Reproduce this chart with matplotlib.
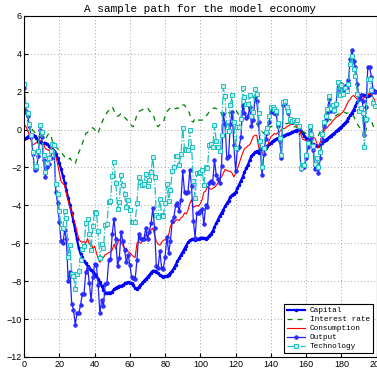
import matplotlib
matplotlib.use("Agg")
import matplotlib.pyplot as plt
import numpy as np

# model economy sample path, 200 periods (log deviations)
capital = [
  -0.5, -0.45, -0.38, -0.32, -0.3, -0.28, -0.35, -0.45, -0.58, -0.68,
  -0.7, -0.72, -0.7, -0.75, -0.85, -0.92, -1.0, -1.12, -1.3, -1.5,
  -1.75, -2.1, -2.45, -2.8, -3.2, -3.6, -4.0, -4.4, -4.85, -5.3,
  -5.8, -6.25, -6.55, -6.75, -6.95, -7.05, -7.2, -7.3, -7.4, -7.5,
  -7.6, -7.72, -7.88, -8.05, -8.25, -8.45, -8.6, -8.62, -8.6, -8.6,
  -8.55, -8.42, -8.35, -8.3, -8.25, -8.25, -8.2, -8.12, -8.08, -8.05,
  -8.07, -8.12, -8.22, -8.38, -8.4, -8.32, -8.22, -8.1, -7.98, -7.88,
  -7.78, -7.68, -7.55, -7.45, -7.45, -7.5, -7.58, -7.68, -7.75, -7.78,
  -7.75, -7.72, -7.65, -7.55, -7.45, -7.3, -7.12, -6.95, -6.78, -6.62,
  -6.45, -6.28, -6.12, -5.95, -5.85, -5.8, -5.8, -5.82, -5.8, -5.76,
  -5.72, -5.7, -5.72, -5.75, -5.7, -5.6, -5.5, -5.35, -5.15, -4.95,
  -4.75, -4.55, -4.4, -4.22, -4.05, -3.9, -3.75, -3.55, -3.45, -3.38,
  -3.3, -3.1, -2.9, -2.7, -2.5, -2.25, -2.05, -1.85, -1.6, -1.4,
  -1.3, -1.2, -1.15, -1.25, -1.15, -1.05, -1.0, -0.95, -0.85, -0.78,
  -0.7, -0.62, -0.55, -0.5, -0.45, -0.42, -0.38, -0.35, -0.3, -0.25,
  -0.22, -0.18, -0.15, -0.1, -0.05, 0.0, 0.02, -0.05, -0.2, -0.35,
  -0.45, -0.55, -0.62, -0.7, -0.75, -0.8, -0.85, -0.88, -0.8, -0.72,
  -0.62, -0.55, -0.48, -0.4, -0.32, -0.25, -0.18, -0.1, 0.0, 0.08,
  0.15, 0.25, 0.35, 0.45, 0.6, 0.75, 0.9, 1.05, 1.25, 1.45,
  1.65, 1.8, 1.85, 1.8, 1.75, 1.78, 1.85, 1.92, 1.98, 2.02,
]

interest_rate = [
  1.0, 0.8, 0.5, 0.25, 0.1, -0.05, -0.15, -0.3, -0.35, -0.4,
  -0.45, -0.5, -0.55, -0.35, -0.2, -0.25, -0.6, -0.75, -0.9, -1.0,
  -1.1, -1.25, -1.3, -1.45, -1.55, -1.6, -1.5, -1.65, -1.75, -1.8,
  -1.5, -1.2, -1.0, -0.75, -0.45, -0.2, -0.15, -0.05, 0.05, 0.1,
  0.0, -0.15, -0.2, 0.1, 0.35, 0.55, 0.75, 0.9, 1.0, 1.1,
  1.2, 1.0, 0.8, 0.7, 0.75, 0.85, 0.8, 0.65, 0.55, 0.45,
  0.35, 0.2, 0.15, 0.45, 0.8, 0.95, 1.0, 1.05, 1.1, 1.1,
  1.15, 1.0, 0.9, 0.85, 0.55, 0.25, 0.15, 0.25, 0.35, 0.4,
  0.7, 0.95, 1.05, 1.15, 1.2, 1.15, 1.1, 1.15, 1.1, 1.2,
  1.3, 1.3, 1.15, 1.05, 0.8, 0.45, 0.4, 0.6, 0.6, 0.5,
  0.5, 0.5, 0.55, 0.7, 0.8, 0.95, 1.05, 1.1, 1.15, 1.1,
  1.1, 1.0, 0.85, 0.75, 0.8, 0.85, 0.9, 0.85, 0.95, 1.05,
  1.05, 0.9, 0.75, 0.85, 1.0, 1.1, 1.25, 1.3, 1.0, 0.8,
  0.7, 0.5, 0.3, 0.15, 0.05, -0.1, -0.2, -0.2, -0.05, 0.1,
  0.15, 0.2, 0.3, 0.35, 0.3, 0.3, 0.35, 0.4, 0.35, 0.3,
  0.35, 0.3, 0.2, 0.15, 0.15, 0.1, 0.0, -0.1, -0.1, -0.15,
  -0.2, -0.15, -0.1, -0.2, -0.3, -0.35, -0.4, -0.3, -0.1, 0.1,
  0.3, 0.5, 0.6, 0.55, 0.5, 0.6, 0.7, 0.75, 0.8, 0.85,
  0.9, 0.95, 0.9, 0.85, 0.9, 0.85, 0.8, 0.7, 0.5, 0.3,
  0.15, 0.05, -0.1, -0.4, 0.0, 0.5, 0.6, 0.45, 0.2, 0.0,
]

consumption = [
  0.3, 0.15, -0.05, -0.3, -0.6, -0.8, -0.75, -0.68, -0.72, -0.6,
  -0.55, -0.75, -1.0, -1.05, -1.1, -0.95, -0.95, -1.15, -1.45, -1.8,
  -2.3, -2.75, -2.85, -2.95, -3.4, -3.75, -4.1, -4.3, -4.7, -5.0,
  -5.4, -5.75, -5.9, -5.95, -5.9, -6.0, -5.75, -6.05, -5.95, -6.3,
  -6.15, -6.5, -6.8, -7.0, -6.85, -6.75, -6.6, -6.55, -6.5, -6.45,
  -6.35, -6.05, -6.3, -6.0, -5.8, -5.95, -6.1, -6.3, -6.25, -6.45,
  -6.5, -6.6, -6.7, -6.75, -6.0, -5.9, -6.0, -5.9, -5.85, -5.55,
  -5.6, -5.4, -5.3, -5.2, -5.55, -5.9, -6.05, -6.1, -5.95, -5.85,
  -5.8, -5.7, -5.55, -5.1, -4.95, -4.95, -4.8, -4.75, -4.8, -4.65,
  -4.6, -4.4, -4.45, -4.25, -3.9, -3.7, -4.1, -4.05, -4.0, -4.05,
  -3.9, -3.7, -3.3, -3.25, -3.0, -3.1, -3.15, -3.1, -3.05, -2.95,
  -2.8, -2.6, -2.5, -2.3, -2.1, -2.15, -2.2, -2.2, -2.3, -2.5,
  -2.3, -2.05, -1.8, -1.5, -1.25, -1.0, -0.95, -0.85, -0.8, -0.6,
  -0.37, -0.3, -0.3, -0.9, -1.1, -1.25, -1.2, -1.1, -0.9, -0.6,
  -0.37, -0.3, -0.2, -0.25, -0.15, -0.1, 0.0, 0.05, 0.07, 0.15,
  0.2, 0.25, 0.3, 0.3, 0.25, 0.15, 0.05, -0.25, -0.5, -0.55,
  -0.6, -0.7, -0.68, -0.5, -0.4, -0.45, -0.7, -0.95, -0.65, -0.3,
  -0.1, 0.05, 0.1, 0.25, 0.3, 0.45, 0.55, 0.65, 0.7, 0.75,
  0.85, 0.95, 1.1, 1.3, 1.5, 1.6, 1.75, 1.8, 1.7, 1.6,
  1.5, 1.55, 1.6, 1.7, 1.75, 1.85, 1.9, 1.85, 1.7, 1.55,
]

output = [
  2.2, 1.0, 0.7, 0.2, -0.4, -1.3, -2.15, -2.1, -1.4, 0.0,
  -0.4, -1.6, -2.5, -2.0, -1.8, -1.5, -1.1, -1.2, -3.3, -3.9,
  -4.9, -5.9, -6.0, -5.3, -5.8, -8.0, -7.5, -9.2, -9.5, -10.3,
  -9.7, -9.7, -9.25, -8.7, -8.65, -7.5, -7.3, -8.1, -9.0, -7.8,
  -7.1, -7.15, -8.2, -9.7, -9.0, -9.3, -8.15, -8.1, -6.9, -6.85,
  -5.5, -4.7, -5.8, -7.2, -6.8, -5.4, -5.9, -6.35, -7.0, -6.6,
  -7.15, -7.8, -7.85, -7.9, -6.9, -5.5, -5.7, -5.8, -5.75, -5.2,
  -5.8, -5.4, -4.95, -4.15, -5.2, -7.2, -7.3, -6.4, -7.3, -7.35,
  -6.7, -5.65, -6.5, -5.9, -4.85, -4.6, -3.97, -3.9, -4.3, -3.7,
  -2.2, -3.3, -3.35, -3.3, -2.13, -3.0, -4.8, -5.7, -4.4, -4.4,
  -4.3, -4.2, -5.0, -4.0, -4.1, -2.8, -2.7, -2.8, -1.6, -2.4,
  -2.6, -2.8, -1.9, 0.8, 0.3, -1.5, -1.4, 0.3, 0.95, -0.8,
  -2.2, -1.0, -0.9, -0.4, 1.3, 0.9, 0.6, 0.7, 1.2, 0.2,
  0.5, 1.7, 1.5, 0.4, -1.0, -2.4, -1.3, -0.5, -0.2, 0.4,
  0.95, 1.0, 0.9, 0.8, 0.2, -0.6, -1.5, 1.3, 1.4, 1.1,
  0.9, 0.5, 0.4, 0.45, 0.4, 0.5, 0.2, -2.1, -1.9, -2.0,
  -1.5, -0.9, 0.0, -0.5, -1.1, -2.1, -1.8, -2.3, -1.5, -0.5,
  0.2, 0.5, 0.9, 1.6, 1.0, 1.2, 1.0, 1.3, 2.5, 1.8,
  2.4, 2.0, 2.3, 2.2, 2.6, 3.7, 4.2, 3.6, 3.3, 2.4,
  1.6, 1.8, 1.5, -0.3, 1.2, 3.3, 3.3, 2.8, 2.1, 2.0,
]

technology = [
  2.4, 1.3, 0.85, 0.3, -0.3, -1.2, -2.0, -1.9, -1.15, 0.25,
  -0.15, -1.35, -2.25, -1.75, -1.5, -1.15, -0.75, -0.8, -2.85, -3.4,
  -4.3, -5.2, -5.2, -4.3, -4.65, -6.7, -6.1, -7.6, -7.75, -8.4,
  -7.6, -7.45, -6.9, -6.3, -6.15, -4.95, -4.7, -5.5, -6.35, -5.1,
  -4.35, -4.4, -5.35, -6.8, -6.05, -6.25, -5.05, -5.0, -3.8, -3.75,
  -2.45, -1.7, -2.8, -4.2, -3.8, -2.4, -2.95, -3.4, -4.1, -3.7,
  -4.25, -4.9, -4.9, -4.9, -3.9, -2.5, -2.75, -2.9, -2.85, -2.35,
  -3.0, -2.65, -2.25, -1.45, -2.5, -4.5, -4.6, -3.65, -4.5, -4.55,
  -3.9, -2.85, -3.75, -3.2, -2.2, -2.0, -1.4, -1.4, -1.85, -1.3,
  0.1, -1.0, -1.1, -1.1, 0.0, -0.9, -2.7, -3.6, -2.3, -2.3,
  -2.25, -2.15, -2.95, -1.95, -2.05, -0.8, -0.75, -0.9, 0.25, -0.6,
  -0.9, -1.15, -0.3, 2.3, 1.75, -0.1, -0.05, 1.3, 1.8, 0.4,
  -0.95, 0.15, 0.15, 0.55, 2.2, 1.7, 1.35, 1.35, 1.8, 0.7,
  0.95, 2.15, 1.9, 0.85, -0.6, -2.0, -0.95, -0.15, 0.1, 0.7,
  1.2, 1.2, 1.1, 1.0, 0.35, -0.45, -1.35, 1.45, 1.5, 1.2,
  1.0, 0.55, 0.45, 0.5, 0.4, 0.5, 0.2, -2.05, -1.85, -1.85,
  -1.35, -0.7, 0.2, -0.25, -0.85, -1.8, -1.5, -2.0, -1.2, -0.25,
  0.4, 0.7, 1.1, 1.75, 1.15, 1.3, 1.05, 1.35, 2.5, 1.8,
  2.35, 1.9, 2.2, 2.05, 2.4, 3.45, 3.9, 3.2, 2.85, 1.9,
  1.0, 1.15, 0.85, -0.9, 0.55, 2.65, 2.65, 2.1, 1.4, 1.25,
]

periods = np.arange(len(capital))
x_ticks = list(range(0, 201, 20))
y_ticks = list(range(-12, 7, 2))

mono = ["Liberation Mono", "DejaVu Sans Mono"]

fig = plt.figure(figsize=(3.77, 3.74), dpi=100)
ax = fig.add_axes([0.064, 0.0455, 0.935, 0.912])

ax.plot(periods, capital, "b.-", lw=1.6, ms=3, label="Capital")
ax.plot(periods, interest_rate, "--", color="#008000", lw=0.9, dashes=(4, 4), label="Interest rate")
ax.plot(periods, consumption, "r-", lw=0.8, label="Consumption")
ax.plot(periods, output, "o-", color="#2020ff", lw=0.9, ms=2.6, mfc="#3030ff", mew=0.5, label="Output")
ax.plot(periods, technology, "s-.", color="#20c0c0", lw=0.9, ms=2.4, mfc="#bfeeee", mew=0.7, label="Technology")

ax.set_xlim(0, 200)
ax.set_ylim(-12, 6)
ax.set_xticks(x_ticks)
ax.set_yticks(y_ticks)
ax.tick_params(direction="in", length=3, labelsize=6.5, pad=2)
for lbl in ax.get_xticklabels() + ax.get_yticklabels():
  lbl.set_family("Liberation Sans")
ax.grid(True, color="#888888", lw=0.6, dashes=(1, 3))
for sp in ax.spines.values():
  sp.set_linewidth(0.8)

ax.set_title("A sample path for the model economy", family=mono, fontsize=8, pad=3)

leg = ax.legend(loc="lower right", prop={"family": mono, "size": 5.6}, fancybox=False,
                edgecolor="black", framealpha=1, handlelength=2.4, labelspacing=0.2,
                borderpad=0.35, handletextpad=0.6, borderaxespad=0.5)
leg.get_frame().set_linewidth(0.8)

fig.savefig("out.png", dpi=100)
